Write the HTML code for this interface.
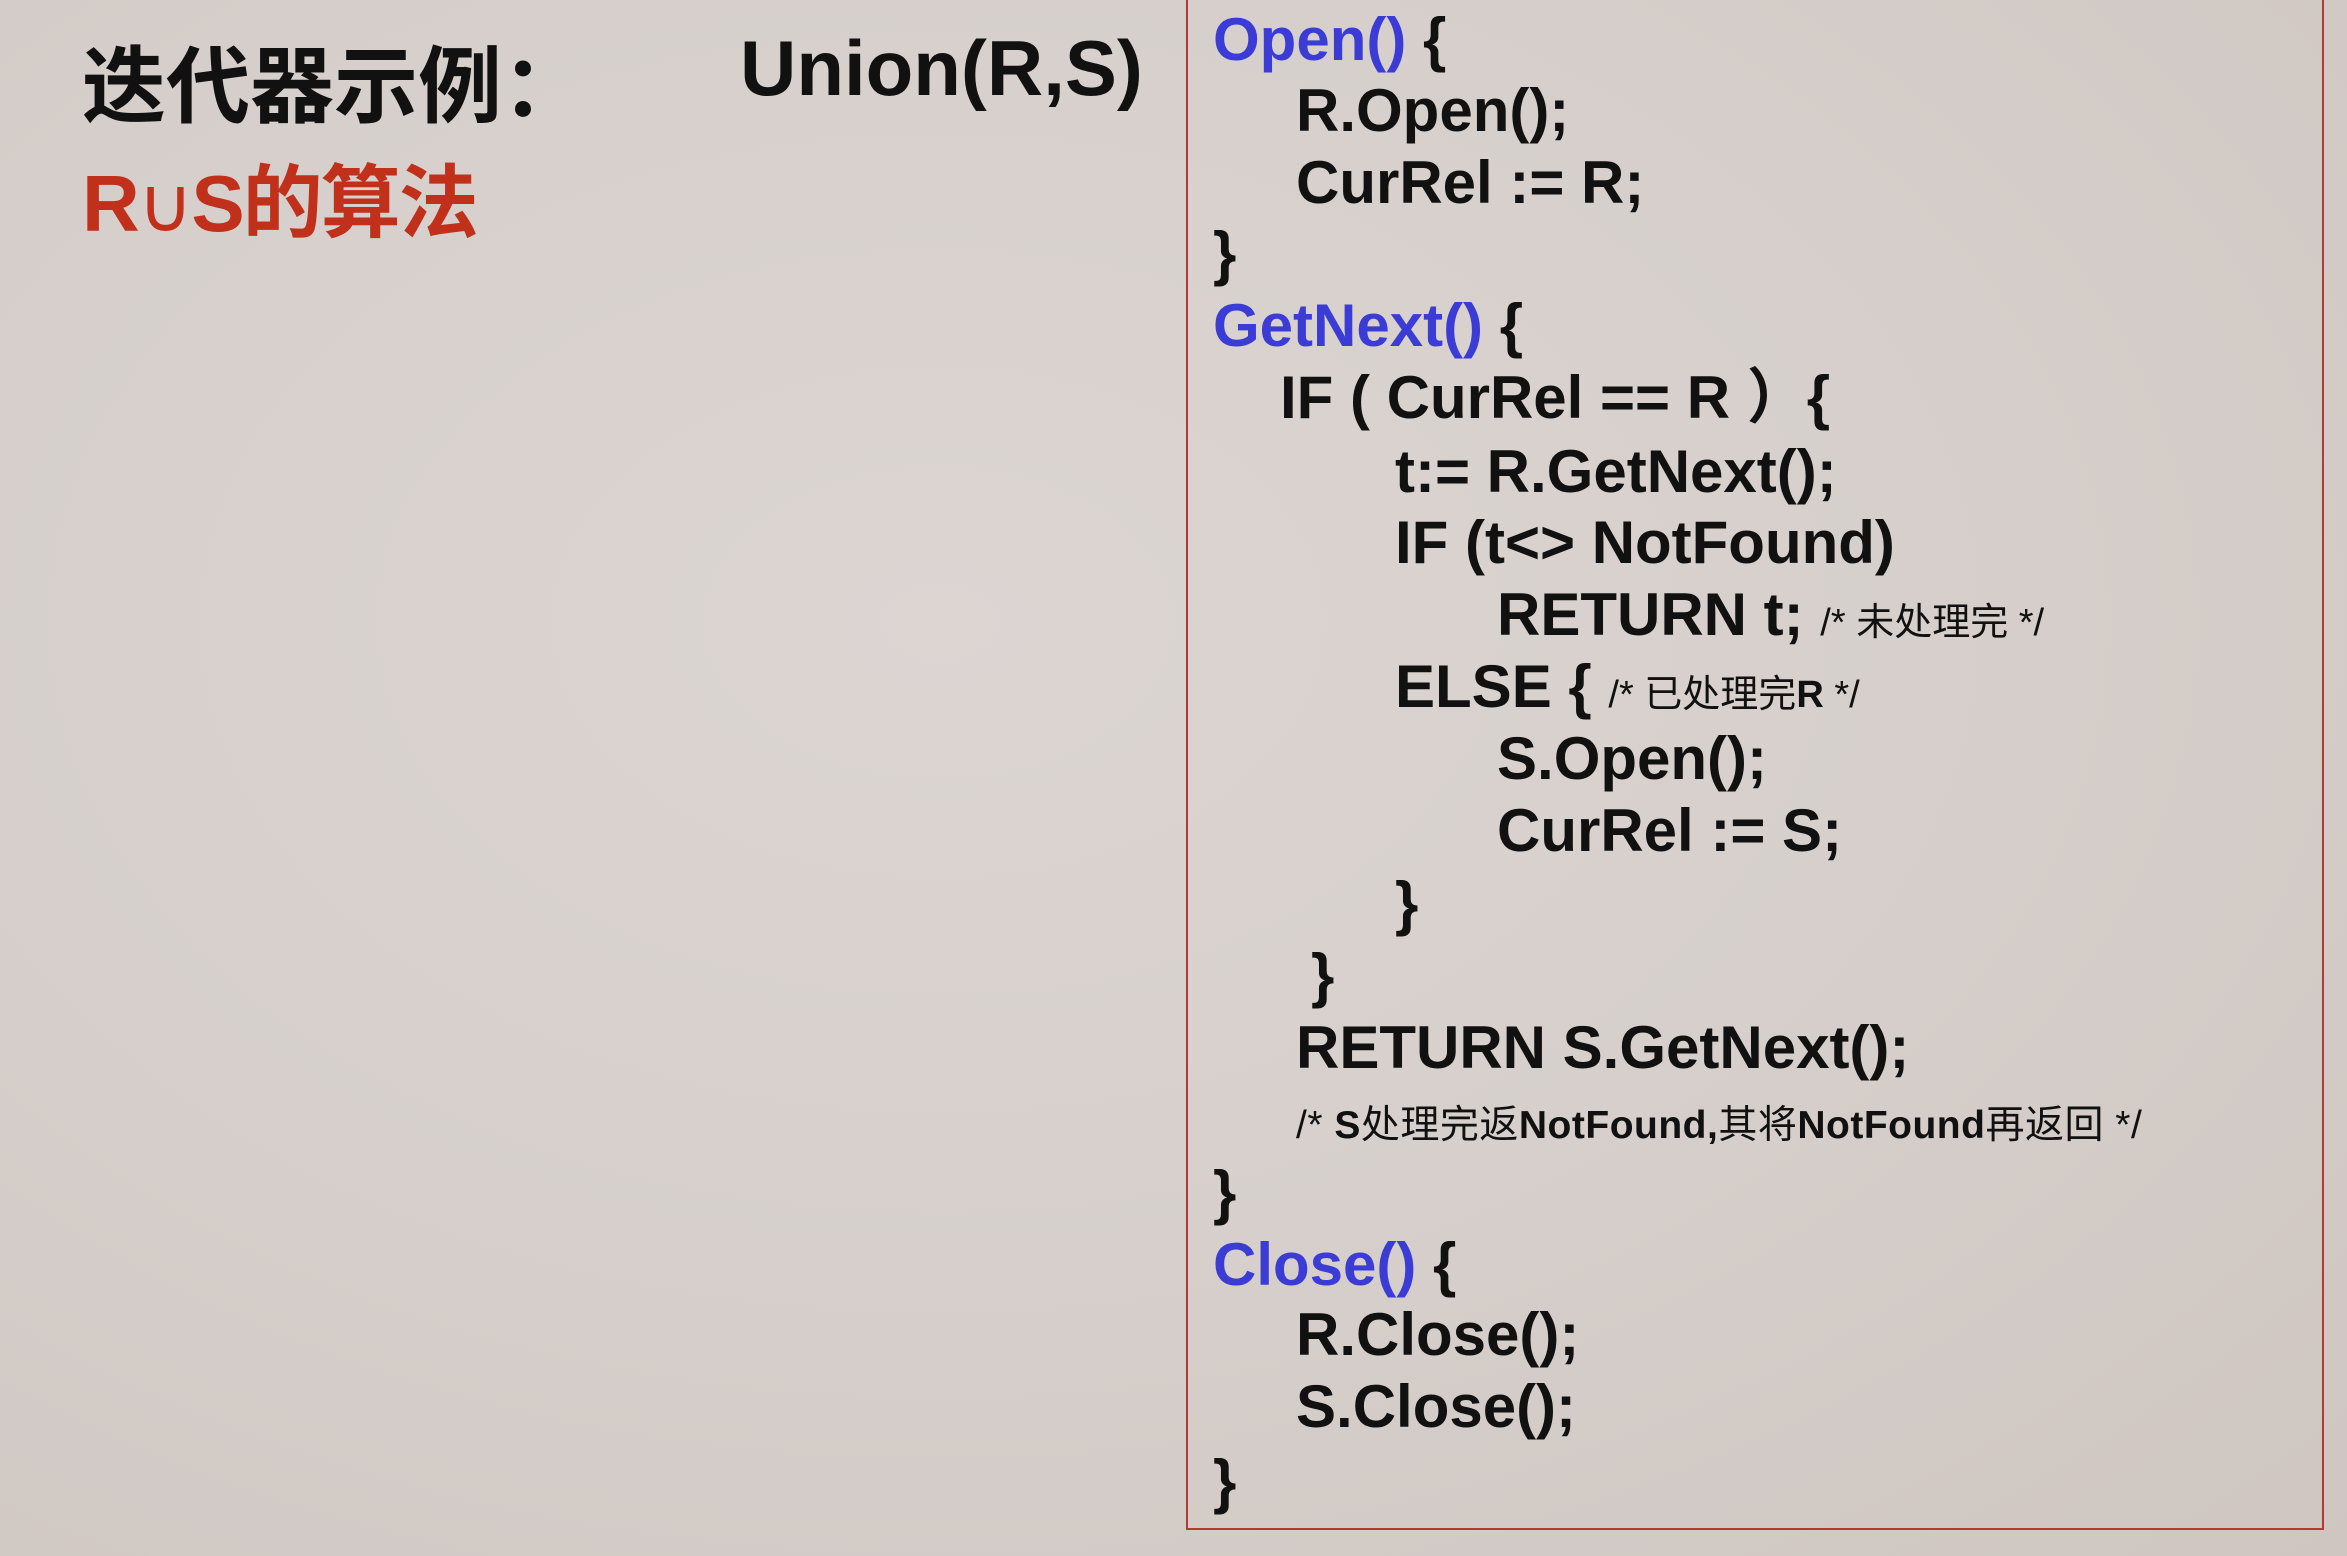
<!DOCTYPE html>
<html><head><meta charset="utf-8"><style>
html,body{margin:0;padding:0}
body{width:2347px;height:1556px;position:relative;overflow:hidden;
background:radial-gradient(ellipse at 40% 40%,#dcd5d2 0%,#d6cfcb 50%,#cfc6c1 100%);
font-family:"Liberation Sans","Noto Sans CJK SC",sans-serif;}
.t{position:absolute;white-space:nowrap;line-height:72px;height:72px;font-weight:bold;font-size:60px;color:#111;}
.b{color:#3b3bd6}
.c{font-size:38px;font-weight:normal}
.c2{font-size:39px;font-weight:normal;letter-spacing:0.5px}
.c b,.c2 b{font-weight:bold}
#box{position:absolute;left:1186px;top:-4px;width:1134px;height:1530px;border:2px solid #b23a30;}
</style></head><body>
<div class="t" style="left:82px;top:42px;font-size:84px;line-height:90px;height:90px;">迭代器示例：</div>
<div class="t" style="left:740px;top:28px;font-size:78px;line-height:80px;height:80px;">Union(R,S)</div>
<div class="t" style="left:82px;top:159px;font-size:80px;line-height:90px;height:90px;color:#c0301a;letter-spacing:-2px;">R<span style="font-family:'DejaVu Sans',sans-serif;font-weight:normal;font-size:76px">∪</span>S的算法</div>
<div id="box"></div>
<div class="t" style="left:1213px;top:4px"><span class="b">Open()</span> {</div>
<div class="t" style="left:1296px;top:75px">R.Open();</div>
<div class="t" style="left:1296px;top:147px">CurRel := R;</div>
<div class="t" style="left:1213px;top:218px">}</div>
<div class="t" style="left:1213px;top:290px"><span class="b">GetNext()</span> {</div>
<div class="t" style="left:1280px;top:362px">IF ( CurRel == R ）{</div>
<div class="t" style="left:1395px;top:436px">t:= R.GetNext();</div>
<div class="t" style="left:1395px;top:507px">IF (t&lt;&gt; NotFound)</div>
<div class="t" style="left:1497px;top:579px">RETURN t; <span class="c">/* 未处理完 */</span></div>
<div class="t" style="left:1395px;top:651px">ELSE { <span class="c">/* 已处理完<b>R</b> */</span></div>
<div class="t" style="left:1497px;top:723px">S.Open();</div>
<div class="t" style="left:1497px;top:795px">CurRel := S;</div>
<div class="t" style="left:1395px;top:868px">}</div>
<div class="t" style="left:1311px;top:940px">}</div>
<div class="t" style="left:1296px;top:1012px">RETURN S.GetNext();</div>
<div class="t c2" style="left:1296px;top:1090px">/* <b>S</b>处理完返<b>NotFound,</b>其将<b>NotFound</b>再返回 */</div>
<div class="t" style="left:1213px;top:1157px">}</div>
<div class="t" style="left:1213px;top:1229px"><span class="b">Close()</span> {</div>
<div class="t" style="left:1296px;top:1299px">R.Close();</div>
<div class="t" style="left:1296px;top:1371px">S.Close();</div>
<div class="t" style="left:1213px;top:1446px">}</div>
</body></html>
